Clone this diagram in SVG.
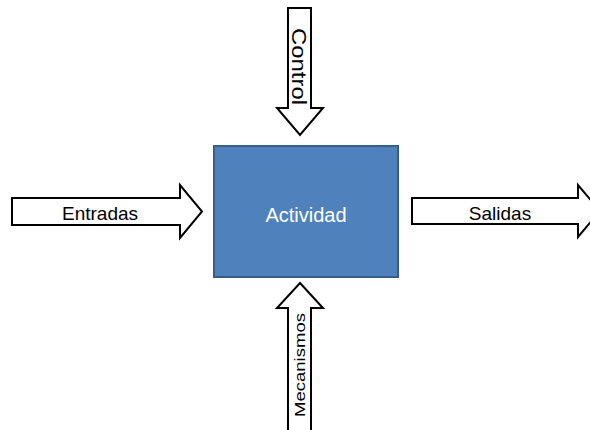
<svg xmlns="http://www.w3.org/2000/svg" width="590" height="430" viewBox="0 0 590 430">
  <style>
    .arrow { fill: #ffffff; stroke: #000000; stroke-width: 2; stroke-linejoin: miter; }
    .lbl { font-family: "Liberation Sans", Arial, sans-serif; fill: #000000; }
    .box { fill: #4F81BD; stroke: #385D8A; stroke-width: 2; }
    .boxlbl { font-family: "Liberation Sans", Arial, sans-serif; fill: #ffffff; font-size: 20px; }
  </style>
  <rect width="590" height="430" fill="#ffffff"/>

  <!-- central activity block -->
  <g id="actividad">
    <rect class="box" x="214" y="146" width="184" height="131"/>
    <text class="boxlbl" x="306" y="222" text-anchor="middle">Actividad</text>
  </g>

  <!-- block arrows feeding into / out of the activity -->
  <g id="connectors">
    <g id="control">
      <polygon class="arrow" points="288,8 311,8 311,108 323,108 300,135 277,108 288,108"/>
      <text class="lbl" transform="translate(292,28) rotate(90)" font-size="20" textLength="77" lengthAdjust="spacingAndGlyphs">Control</text>
    </g>
    <g id="entradas">
      <polygon class="arrow" points="12,198 180,198 180,185 202,211.5 180,238 180,225 12,225"/>
      <text class="lbl" x="100" y="220" font-size="19" text-anchor="middle">Entradas</text>
    </g>
    <g id="salidas">
      <polygon class="arrow" points="412,198 578,198 578,185 600,211 578,237 578,224 412,224"/>
      <text class="lbl" x="500" y="220" font-size="19" text-anchor="middle">Salidas</text>
    </g>
    <g id="mecanismos">
      <polygon class="arrow" points="300,283 323,308 311,308 311,432 288,432 288,308 277,308"/>
      <text class="lbl" transform="translate(305,417) rotate(-90)" font-size="14" textLength="104" lengthAdjust="spacingAndGlyphs">Mecanismos</text>
    </g>
  </g>
</svg>
